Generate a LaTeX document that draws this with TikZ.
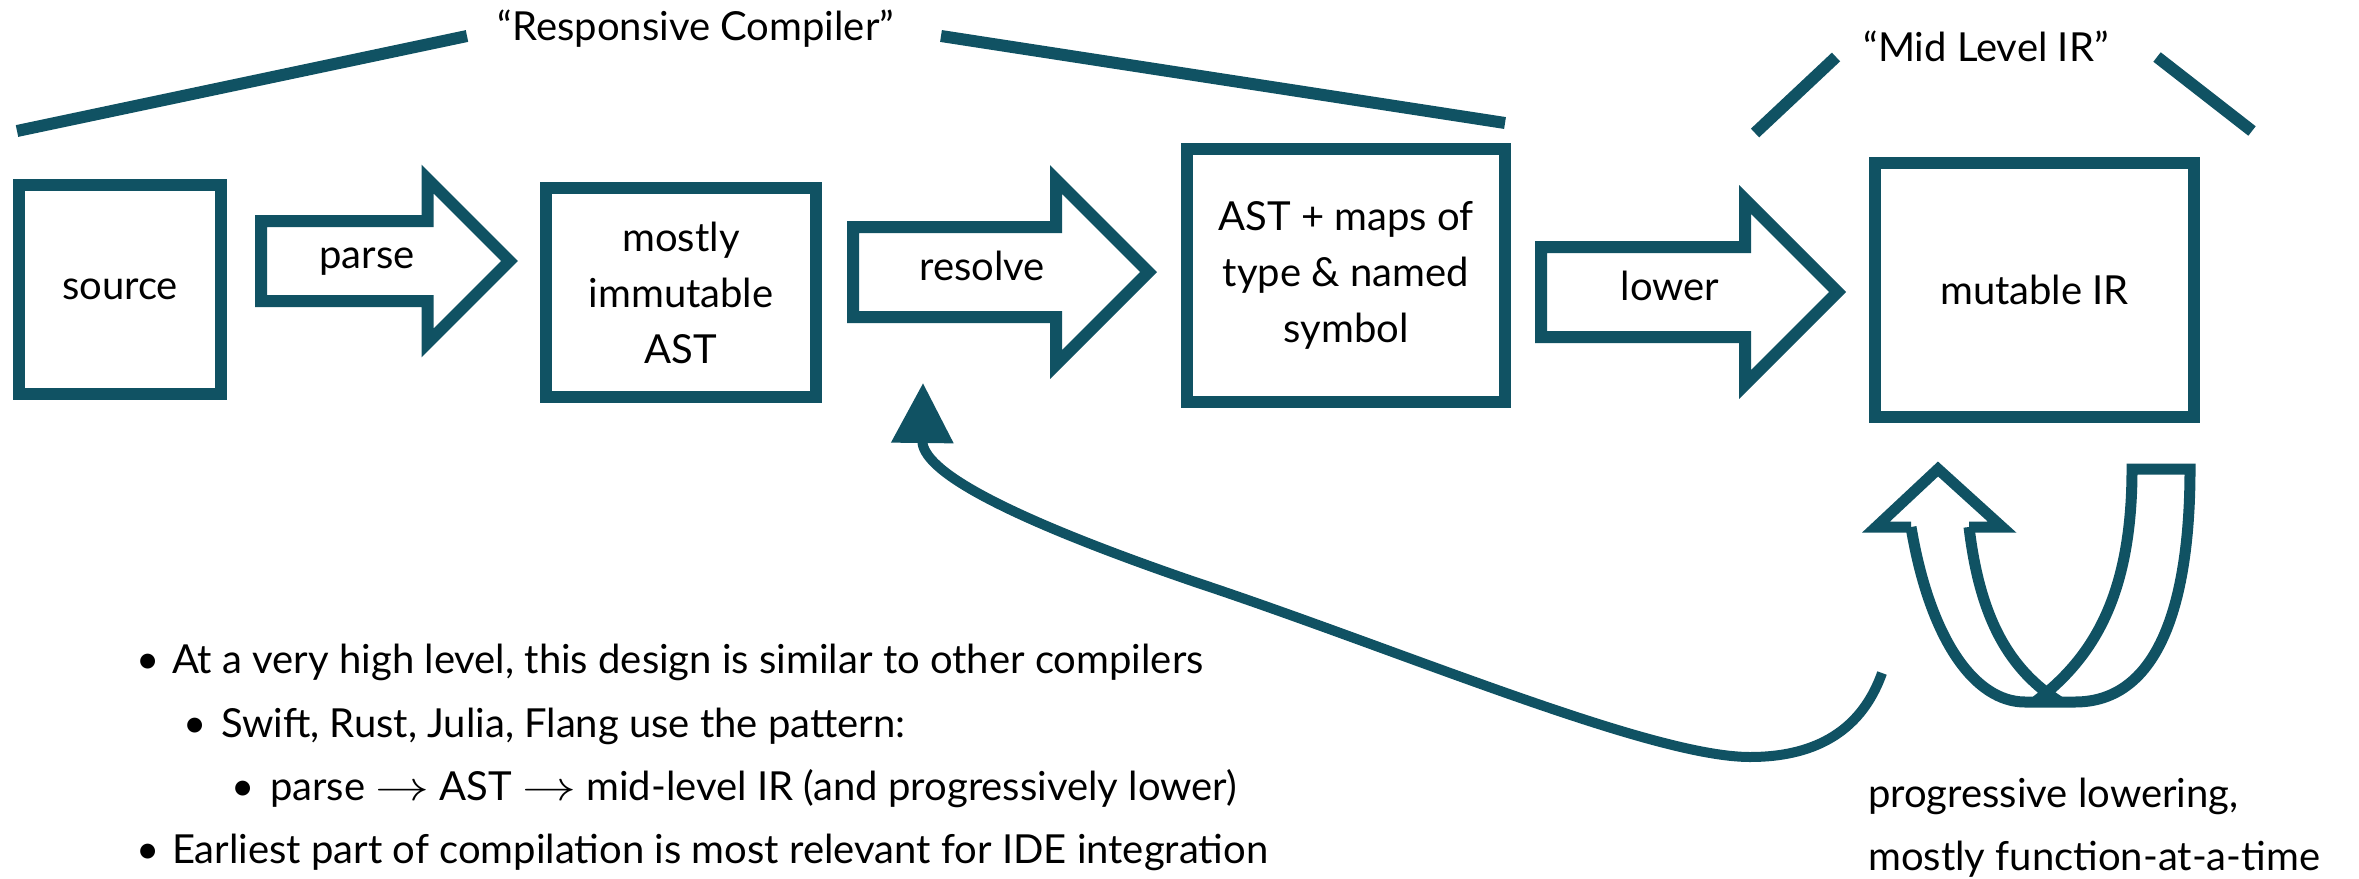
\documentclass[tikz,border=0pt]{standalone}
\usepackage{fontspec}
\setmainfont{Lato}
\usetikzlibrary{shapes.arrows,arrows.meta}
\definecolor{irteal}{RGB}{16,82,99}

\begin{document}
\begin{tikzpicture}[x=0.5pt,y=-0.5pt,
	every node/.style={font=\fontsize{20}{28}\selectfont},
	stage/.style={draw=irteal, line width=6pt, fill=white, align=center, inner sep=0pt},
	passarrow/.style={single arrow, draw=irteal, line width=6pt, fill=white, outer sep=0pt,
		single arrow tip angle=90, single arrow head indent=0pt, minimum width=0pt, inner xsep=0pt, anchor=tail},
	bracket/.style={irteal, line width=6pt},
	feedback/.style={irteal, line width=5pt, -{Triangle[length=30pt,width=30pt]}},
	uturn/.style={irteal, line width=5.5pt, line join=miter}]
	\useasboundingbox (0,0) rectangle (2359,878);

	% phases
	\node[stage, minimum width=101pt, minimum height=104.5pt] (source) at (120,289.5) {source};
	\node[stage, minimum width=135pt, minimum height=104.5pt] (ast) at (681,292.5) {mostly\\immutable\\AST};
	\node[stage, minimum width=159pt, minimum height=126.5pt] (symbols) at (1346,275.5) {AST + maps of\\type \& named\\symbol};
	\node[stage, minimum width=159.5pt, minimum height=127pt] (mir) at (2034.5,290) {mutable IR};

	\node[passarrow, inner ysep=17pt, single arrow head extend=21pt, minimum height=124.25pt] (parse) at (261,261) {};
	\node[passarrow, inner ysep=19.5pt, single arrow head extend=23.75pt, minimum height=147.75pt] (resolve) at (853,272) {};
	\node[passarrow, inner ysep=19.5pt, single arrow head extend=23.75pt, minimum height=148.25pt] (lower) at (1541,292) {};
	\node[anchor=base] (parselbl) at (367,268) {parse};
	\node[anchor=base] (resolvelbl) at (982,280) {resolve};
	\node[anchor=base] (lowerlbl) at (1670,300) {lower};

	% groupings
	\draw[bracket] (17,131) -- (467,36);
	\draw[bracket] (941,36) -- (1505,123);
	\node[anchor=base] (respname) at (696,40) {“Responsive Compiler”};
	\draw[bracket] (1755,133) -- (1836,57);
	\draw[bracket] (2157,57) -- (2252,131);
	\node[anchor=base] (midname) at (1986,61) {“Mid Level IR”};

	% feedback into resolve
	\coordinate (fbstart) at (1882,673);
	\coordinate (fbtip) at (923,383);
	\draw[feedback] (fbstart) .. controls (1860,735) and (1810,757) .. (1750,757)
		.. controls (1650,757) and (1400,650) .. (1195,582)
		.. controls (1000,515) and (922,470) .. (fbtip);

	% progressive lowering loop
	\draw[uturn] (1911,527) .. controls (1930,640) and (1975,702) .. (2025,702) -- (2075,702)
		.. controls (2160,702) and (2190,600) .. (2190,469) -- (2132,469)
		.. controls (2132,600) and (2090,660) .. (2035,702);
	\draw[uturn] (1969,527) .. controls (1980,620) and (2010,670) .. (2060,702);
	\draw[uturn] (1911,527) -- (1876,527) -- (1938,469) -- (2002,527) -- (1969,527);
	\node[anchor=west, align=left, font=\fontsize{20}{31.5}\selectfont] (loopnote) at (1861,828)
		{progressive lowering,\\mostly function-at-a-time};

	% notes
	\node[anchor=base west] (point1) at (129,673) {\makebox[18pt][l]{\textbullet}At a very high level, this design is similar to other compilers};
	\node[anchor=base west] (point2) at (176,737) {\makebox[19pt][l]{\textbullet}Swift, Rust, Julia, Flang use the pattern:};
	\node[anchor=base west] (point3) at (224,800) {\makebox[19.5pt][l]{\textbullet}parse \scalebox{1.3}[1]{$\rightarrow$} AST \scalebox{1.3}[1]{$\rightarrow$} mid-level IR (and progressively lower)};
	\node[anchor=base west] (point4) at (129,863) {\makebox[18pt][l]{\textbullet}Earliest part of compilation is most relevant for IDE integration};
\end{tikzpicture}
\end{document}
